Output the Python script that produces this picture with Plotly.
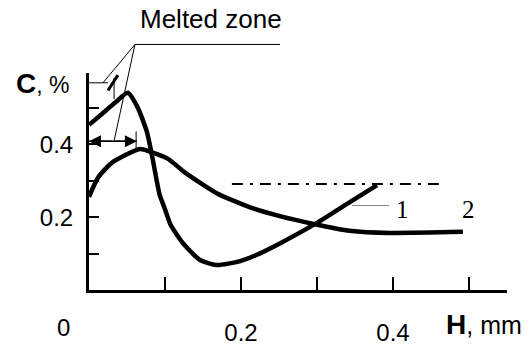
import plotly.graph_objects as go

# ---- data ----
h1 = [0.0, 0.017, 0.035, 0.051, 0.064, 0.076, 0.083, 0.089, 0.093, 0.100, 0.107,
      0.124, 0.146, 0.168, 0.199, 0.225, 0.251, 0.297, 0.339, 0.379]
c1 = [0.453, 0.483, 0.515, 0.541, 0.501, 0.435, 0.368, 0.301, 0.261, 0.222, 0.181,
      0.128, 0.083, 0.069, 0.080, 0.101, 0.128, 0.181, 0.236, 0.288]

h2 = [0.0, 0.012, 0.030, 0.067, 0.080, 0.104, 0.126, 0.168, 0.212, 0.251, 0.297,
      0.343, 0.396, 0.492]
c2 = [0.256, 0.309, 0.349, 0.387, 0.380, 0.360, 0.323, 0.266, 0.227, 0.203, 0.181,
      0.163, 0.157, 0.160]

limit_h = [0.188, 0.462]
limit_c = [0.291, 0.291]

x_ticks = [0.1, 0.2, 0.3, 0.4, 0.5]
x_ticktext = ["", "0.2", "", "0.4", ""]
y_ticks = [0.1, 0.2, 0.3, 0.4, 0.5]
y_ticktext = ["", "0.2", "", "0.4", ""]

W, H = 529, 346
FONT = "Arial, Liberation Sans, sans-serif"
SERIF = "Times New Roman, Liberation Serif, serif"

fig = go.Figure()

# main data on plot-area axes (x2/y2)
fig.add_trace(go.Scatter(x=h1, y=c1, mode="lines", xaxis="x2", yaxis="y2",
                         line=dict(color="black", width=4.5, shape="spline", smoothing=0.6)))
fig.add_trace(go.Scatter(x=h2, y=c2, mode="lines", xaxis="x2", yaxis="y2",
                         line=dict(color="black", width=4.5, shape="spline", smoothing=0.6)))
fig.add_trace(go.Scatter(x=limit_h, y=limit_c, mode="lines", xaxis="x2", yaxis="y2",
                         line=dict(color="black", width=2.2, dash="11px,7px,3px,7px")))

# callout geometry for "Melted zone" (full-figure axes x/y, same data units)
apex = (0.0605, 0.673)
callout_lines = [
    ([apex[0], 0.2513], [apex[1], apex[1]]),
    ([apex[0], 0.0184], [apex[1], 0.568]),
    ([apex[0], 0.0329], [apex[1], 0.408]),
    ([0.0, 0.025], [0.568, 0.568]),
    ([0.033, 0.033], [0.581, 0.523]),
    ([0.062, 0.062], [0.435, 0.389]),
]
for xs, ys in callout_lines:
    fig.add_trace(go.Scatter(x=xs, y=ys, mode="lines", xaxis="x", yaxis="y",
                             line=dict(color="black", width=1)))
fig.add_trace(go.Scatter(x=[0.025, 0.038], y=[0.547, 0.589], mode="lines",
                         xaxis="x", yaxis="y", line=dict(color="black", width=3)))
fig.add_trace(go.Scatter(x=[0.0, 0.063], y=[0.408, 0.408], mode="lines",
                         xaxis="x", yaxis="y", line=dict(color="black", width=1.5)))
# leader for curve 1
fig.add_trace(go.Scatter(x=[0.346, 0.395], y=[0.232, 0.232], mode="lines",
                         xaxis="x", yaxis="y", line=dict(color="#888888", width=1)))

annotations = []
# dimension arrows
for tip, tail in [(0.0, 0.032), (0.063, 0.032)]:
    annotations.append(dict(x=tip, y=0.408, ax=tail, ay=0.408, xref="x", yref="y",
                            axref="x", ayref="y", showarrow=True, arrowhead=2,
                            arrowsize=1.6, arrowwidth=1.5, arrowcolor="black", text=""))

annotations += [
    dict(x=211 / W, y=1 - 20 / H, xref="paper", yref="paper", text="Melted zone",
         xanchor="center", yanchor="middle",
         showarrow=False, font=dict(family=FONT, size=26, color="black")),
    dict(x=14 / W, y=1 - 86 / H, xref="paper", yref="paper",
         xanchor="left", yanchor="middle",
         text="<b>C</b><span style='font-size:23px'>, %</span>",
         showarrow=False, font=dict(family=FONT, size=28, color="black")),
    dict(x=444 / W, y=1 - 333 / H, xref="paper", yref="paper",
         xanchor="left", yanchor="middle",
         text="<b>H</b><span style='font-size:25px'>, mm</span>",
         showarrow=False, font=dict(family=FONT, size=28, color="black")),
    dict(x=63 / W, y=1 - 336 / H, xref="paper", yref="paper", text="0",
         xanchor="center", yanchor="middle",
         showarrow=False, font=dict(family=FONT, size=24, color="black")),
    dict(x=0.413, y=0.222, xref="x", yref="y", text="1", showarrow=False,
         xanchor="center", yanchor="middle",
         font=dict(family=SERIF, size=25, color="black")),
    dict(x=0.499, y=0.222, xref="x", yref="y", text="2", showarrow=False,
         xanchor="center", yanchor="middle",
         font=dict(family=SERIF, size=25, color="black")),
]

x0px, y0px, kx, ky = 89, 298, 760.0, 375.0
fig.update_layout(
    width=W, height=H, margin=dict(l=0, r=0, t=0, b=0),
    paper_bgcolor="white", plot_bgcolor="rgba(0,0,0,0)", showlegend=False,
    xaxis=dict(domain=[0, 1], range=[-x0px / kx, (W - x0px) / kx], visible=False,
               fixedrange=True),
    yaxis=dict(domain=[0, 1], range=[-(H - y0px) / ky, y0px / ky], visible=False,
               fixedrange=True),
    xaxis2=dict(domain=[x0px / W, 507 / W], range=[0, 0.55], anchor="y2",
                showline=True, linewidth=3, linecolor="black", showgrid=False,
                zeroline=False, ticks="inside", ticklen=13, tickwidth=2,
                tickcolor="black", tickvals=x_ticks, ticktext=x_ticktext,
                ticklabelstandoff=19,
                tickfont=dict(family=FONT, size=24, color="black")),
    yaxis2=dict(domain=[(H - y0px) / H, (H - 75) / H], range=[0, 0.595], anchor="x2",
                showline=True, linewidth=3, linecolor="black", showgrid=False,
                zeroline=False, ticks="inside", ticklen=10, tickwidth=2,
                tickcolor="black", tickvals=y_ticks, ticktext=y_ticktext,
                ticklabelstandoff=8,
                tickfont=dict(family=FONT, size=24, color="black")),
    annotations=annotations,
)

fig.write_html("out.html", config={"displayModeBar": False},
               post_script="document.body.style.margin='0px';"
                           "document.body.style.overflow='hidden';")
